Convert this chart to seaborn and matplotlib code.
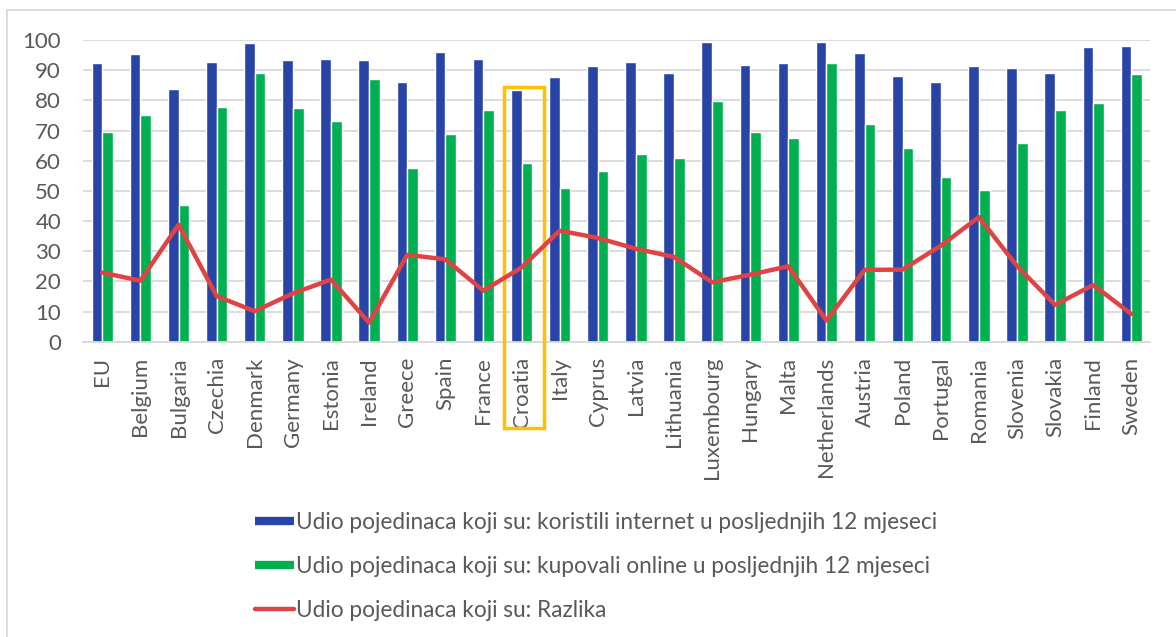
# Udio pojedinaca - internet vs online kupovina (EU zemlje)
import numpy as np
import pandas as pd
import matplotlib.pyplot as plt
import seaborn as sns
from matplotlib.lines import Line2D
from matplotlib.patches import Rectangle

# Data
countries = ['EU', 'Belgium', 'Bulgaria', 'Czechia', 'Denmark', 'Germany', 'Estonia',
             'Ireland', 'Greece', 'Spain', 'France', 'Croatia', 'Italy', 'Cyprus',
             'Latvia', 'Lithuania', 'Luxembourg', 'Hungary', 'Malta', 'Netherlands',
             'Austria', 'Poland', 'Portugal', 'Romania', 'Slovenia', 'Slovakia',
             'Finland', 'Sweden']
internet = [92.3, 95.3, 83.9, 92.6, 98.9, 93.4, 93.6, 93.4, 86.1, 95.9, 93.6, 83.4, 87.6, 91.3,
            92.7, 88.9, 99.3, 91.7, 92.4, 99.2, 95.6, 88.1, 86.2, 91.5, 90.6, 88.9, 97.7, 98.0]
online = [69.5, 75.1, 45.2, 77.7, 89.0, 77.5, 73.2, 87.0, 57.5, 68.8, 76.8, 59.1, 50.9, 56.7,
          62.1, 60.9, 79.7, 69.5, 67.5, 92.3, 72.0, 64.3, 54.7, 50.2, 65.8, 76.7, 79.0, 88.7]
razlika = [22.9, 20.2, 38.8, 15.1, 10.1, 16.0, 20.6, 6.3, 28.8, 27.3, 16.9, 24.6, 36.8, 34.4,
           30.8, 28.1, 19.7, 22.2, 25.0, 7.0, 23.8, 23.9, 31.8, 41.3, 25.1, 12.2, 18.8, 9.2]

lab_internet = 'Udio pojedinaca koji su: koristili internet u posljednjih 12 mjeseci'
lab_online = 'Udio pojedinaca koji su: kupovali online u posljednjih 12 mjeseci'
lab_razlika = 'Udio pojedinaca koji su: Razlika'

highlight = 'Croatia'

# Long format table for seaborn
df = pd.DataFrame({
    'country': countries * 2,
    'value': internet + online,
    'serija': [lab_internet] * len(countries) + [lab_online] * len(countries),
})

sns.set_style('white')
plt.rcParams['font.family'] = ['Lato', 'DejaVu Sans']

text_col = '#595959'
grid_col = '#D9D9D9'
blue = '#2944A7'
green = '#00B050'
red = '#E04343'
gold = '#FFC000'

fig = plt.figure(figsize=(11.76, 6.37), dpi=100)
ax = fig.add_axes([0.0708, 0.4636, 0.9074, 0.4736])

sns.barplot(data=df, x='country', y='value', hue='serija', order=countries,
            palette=[blue, green], saturation=1, width=0.56, ax=ax, legend=False, zorder=2)

x = np.arange(len(countries))
sns.lineplot(x=x, y=razlika, ax=ax, color=red, linewidth=3.2, zorder=4)
for l in ax.lines:
    l.set_solid_joinstyle('round')
    l.set_solid_capstyle('round')

# Croatia highlight box
ci = countries.index(highlight)
ax.add_patch(Rectangle((ci - 0.45, -28.6), 1.05, 113.1, fill=False, edgecolor=gold,
                       linewidth=2.5, clip_on=False, zorder=3))

ax.set_ylim(0, 100)
ax.set_xlim(-0.5, len(countries) - 0.5)
ax.set_yticks(range(0, 101, 10))
ax.yaxis.grid(True, color=grid_col, linewidth=1.3, zorder=0)
ax.set_axisbelow(True)
for s in ['top', 'right', 'left']:
    ax.spines[s].set_visible(False)
ax.spines['bottom'].set_color(grid_col)
ax.spines['bottom'].set_linewidth(1.3)
ax.set_xlabel('')
ax.set_ylabel('')
ax.tick_params(axis='y', length=0, pad=16, labelsize=16, labelcolor=text_col)
ax.tick_params(axis='x', length=0, pad=11, labelsize=16, labelcolor=text_col)
plt.setp(ax.get_xticklabels(), rotation=90)

# legend below the chart
handles = [
    Line2D([0], [0], color=blue, linewidth=6, solid_capstyle='butt'),
    Line2D([0], [0], color=green, linewidth=6, solid_capstyle='butt'),
    Line2D([0], [0], color=red, linewidth=3.2, solid_capstyle='round'),
]
fig.legend(handles, [lab_internet, lab_online, lab_razlika], loc='upper center',
           bbox_to_anchor=(596 / 1176, 1 - 492 / 637), frameon=False, fontsize=16.3,
           labelcolor=text_col, handlelength=1.7, handletextpad=0.1, labelspacing=1.0)

# chart area border
fig.add_artist(Line2D([7 / 1176, 1.0], [1 - 10 / 637, 1 - 10 / 637],
                      transform=fig.transFigure, color=grid_col, linewidth=1.3))
fig.add_artist(Line2D([7 / 1176, 7 / 1176], [1 - 10 / 637, 0.0],
                      transform=fig.transFigure, color=grid_col, linewidth=1.3))

fig.savefig('out.png', dpi=100, facecolor='white')
